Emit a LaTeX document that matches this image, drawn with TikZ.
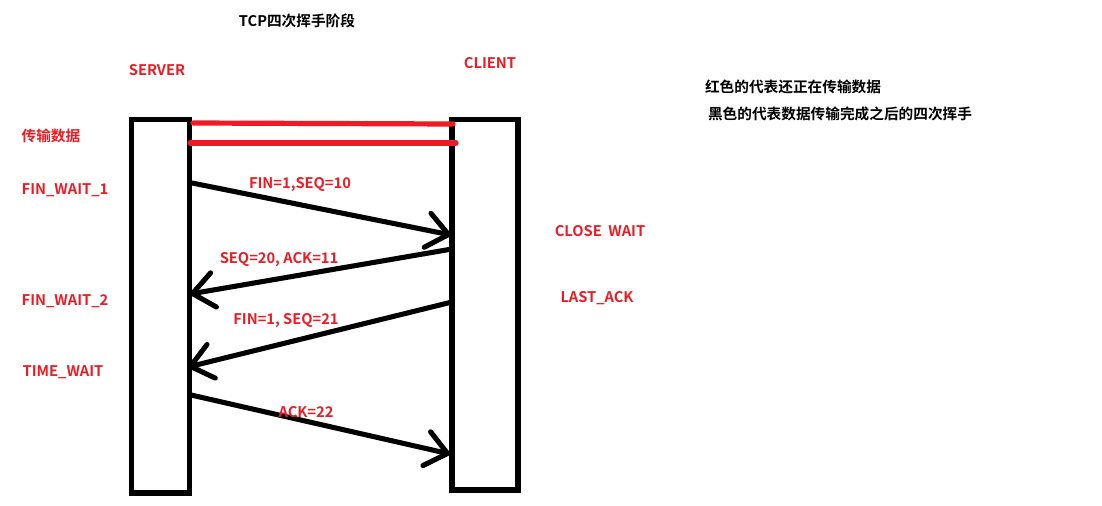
\documentclass[tikz,border=0pt]{standalone}
\usepackage{fontspec}
\setmainfont{Noto Sans CJK SC}[BoldFont={Noto Sans CJK SC Bold}]
\usetikzlibrary{arrows.meta}
\definecolor{pred}{RGB}{237,28,36}
\tikzset{
  lifebox/.style={draw=black, line width=3.9pt, inner sep=0pt, minimum width=43.5pt},
  msg/.style={draw=black, line width=3.8pt, line cap=round,
    -{Straight Barb[length=16pt, width=26pt, line cap=round, line join=round]}},
  dataline/.style={draw=pred, line width=3.9pt, line cap=round},
  redlbl/.style={text=pred, font=\fontsize{11}{13}\selectfont\bfseries, inner sep=0pt},
  blklbl/.style={text=black, font=\fontsize{11}{13}\selectfont\bfseries, inner sep=0pt},
}
\begin{document}
\begin{tikzpicture}[x=0.75pt, y=-0.75pt]
\useasboundingbox (0,0) rectangle (1102,506);
% lifeline boxes
\node[lifebox, minimum width=43.5pt, minimum height=280.1pt] (srv) at (160.5,306.2) {};
\node[lifebox, minimum width=49.5pt, minimum height=277.9pt] (cli) at (485,304.8) {};
% texts
\node[blklbl] (title) at (297,21) {TCP四次挥手阶段};
\node[redlbl] (server) at (157,70) {SERVER};
\node[redlbl] (client) at (490,63) {CLIENT};
\node[redlbl] (data) at (51,136) {传输数据};
\node[redlbl] (fw1) at (65,190) {FIN\_WAIT\_1};
\node[redlbl] (fw2) at (65,301) {FIN\_WAIT\_2};
\node[redlbl] (tw) at (63,372) {TIME\_WAIT};
\node[redlbl] (cw) at (600,231) {CLOSE\ \ WAIT};
\node[redlbl] (la) at (597,298) {LAST\_ACK};
\node[blklbl] (note1) at (793,87) {红色的代表还正在传输数据};
\node[blklbl] (note2) at (840,114) {黑色的代表数据传输完成之后的四次挥手};
% endpoints on the lifelines
\coordinate (d1s) at (193,123);
\coordinate (d1e) at (453,124);
\coordinate (d2s) at (190,143);
\coordinate (d2e) at (456,143);
\coordinate (m1s) at (192,183);
\coordinate (m1e) at (451,235);
\coordinate (m2s) at (452,249);
\coordinate (m2e) at (190,294);
\coordinate (m3s) at (452,302);
\coordinate (m3e) at (188,367);
\coordinate (m4s) at (191,395);
\coordinate (m4e) at (450,454);
% data lines
\draw[dataline] (d1s) -- (d1e);
\draw[dataline] (d2s) -- (d2e);
% messages
\draw[msg] (m1s) -- (m1e);
\draw[msg] (m2s) -- (m2e);
\draw[msg] (m3s) -- (m3e);
\draw[msg] (m4s) -- (m4e);
% message labels
\node[redlbl] (l1) at (300,185) {FIN=1,SEQ=10};
\node[redlbl] (l2) at (279,260) {SEQ=20, ACK=11};
\node[redlbl] (l3) at (286,321) {FIN=1, SEQ=21};
\node[redlbl] (l4) at (306,412) {ACK=22};
\end{tikzpicture}
\end{document}
